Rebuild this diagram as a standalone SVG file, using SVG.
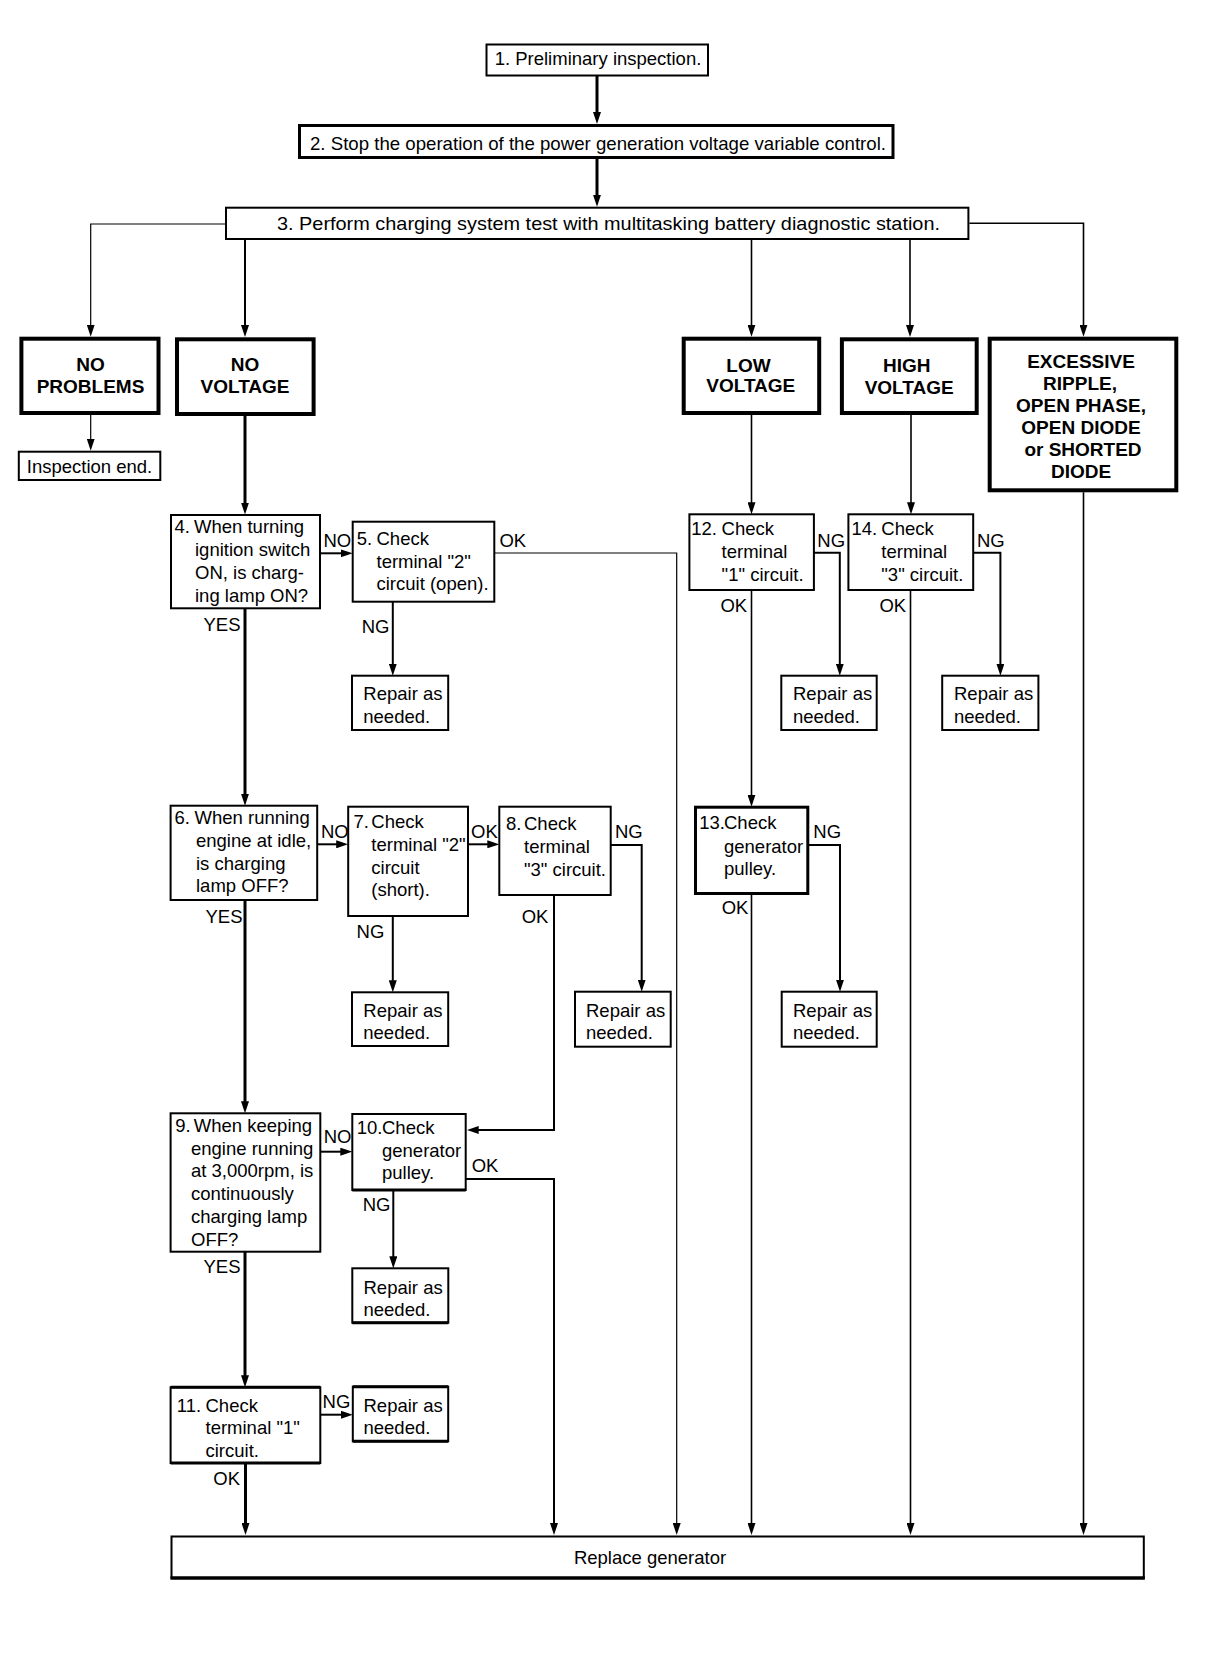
<svg xmlns="http://www.w3.org/2000/svg" width="1216" height="1660" viewBox="0 0 1216 1660">
<style>
text{font-family:"Liberation Sans",Arial,sans-serif;font-size:18.5px;fill:#000}
.b{font-weight:bold;font-size:19px}
.c{text-anchor:middle}
rect{fill:#fff;stroke:#000;stroke-width:2}
.k{stroke-width:4}
.m{stroke-width:3}
.cn path{fill:none;stroke:#000}
.t1{stroke-width:1.2}
.t15{stroke-width:1.6}
.t2{stroke-width:2}
.t3{stroke-width:3}
.a{marker-end:url(#ah)}
</style>
<defs>
<marker id="ah" viewBox="0 0 12 8" refX="6" refY="4" markerWidth="12" markerHeight="8" markerUnits="userSpaceOnUse" orient="auto">
<path d="M0,0 L12,4 L0,8 z" fill="#000"/>
</marker>
</defs>
<rect x="0" y="0" width="1216" height="1660" style="stroke:none;fill:#fff"/>

<g class="cn" id="connectors">
<path class="t3 a" d="M597,76 V118"/>
<path class="t3 a" d="M597,159 V200.7"/>
<path class="t1 a" d="M225,224 H90.7 V330.7"/>
<path class="t2 a" d="M245,240 V331"/>
<path class="t15 a" d="M751.5,240 V330.7"/>
<path class="t15 a" d="M910,240 V331"/>
<path class="t15 a" d="M969.4,223.3 H1083.5 V330.7"/>
<path class="t1 a" d="M90.7,415 V444.7"/>
<path class="t3 a" d="M245,416 V508.5"/>
<path class="t2 a" d="M320,553.3 H346.7"/>
<path class="t1 a" d="M494.3,553 H676.7 V1529"/>
<path class="t2 a" d="M392.8,601.7 V669.7"/>
<path class="t3 a" d="M245,608.3 V799.7"/>
<path class="t2 a" d="M317.2,844.3 H342.2"/>
<path class="t2 a" d="M468,844.3 H493.3"/>
<path class="t2 a" d="M610.7,845 H641.7 V985.7"/>
<path class="t2 a" d="M392.8,916 V986.3"/>
<path class="t2 a" d="M554,895 V1130 H472.7"/>
<path class="t3 a" d="M245,900 V1107.3"/>
<path class="t2 a" d="M320.3,1151.7 H346.3"/>
<path class="t2 a" d="M465.7,1179 H554 V1529"/>
<path class="t2 a" d="M393.3,1190 V1262.3"/>
<path class="t3 a" d="M245,1251.7 V1381.3"/>
<path class="t2 a" d="M320.3,1414.7 H346.8"/>
<path class="t3 a" d="M245.5,1463 V1529"/>
<path class="t15 a" d="M751.5,415 V508.3"/>
<path class="t2 a" d="M813.9,552.7 H839.8 V669.7"/>
<path class="t15 a" d="M751.5,590 V800.7"/>
<path class="t2 a" d="M808.3,845 H840 V985.7"/>
<path class="t15 a" d="M751.5,894 V1529"/>
<path class="t15 a" d="M911,415 V508.3"/>
<path class="t2 a" d="M973.2,552.7 H1000.4 V669.7"/>
<path class="t15 a" d="M910.5,590 V1529"/>
<path class="t15 a" d="M1083.5,492.3 V1529"/>
</g>

<g id="labels">
<text x="323.5" y="546.7">NO</text>
<text x="499.4" y="546.7">OK</text>
<text x="203.5" y="630.7">YES</text>
<text x="361.7" y="633.3">NG</text>
<text x="321" y="838.3">NO</text>
<text x="471" y="838.3">OK</text>
<text x="615" y="838.3">NG</text>
<text x="356.6" y="938.3">NG</text>
<text x="521.7" y="922.7">OK</text>
<text x="205.5" y="922.7">YES</text>
<text x="323.7" y="1143.3">NO</text>
<text x="471.7" y="1171.7">OK</text>
<text x="362.7" y="1211">NG</text>
<text x="203.5" y="1273.3">YES</text>
<text x="322.6" y="1408.3">NG</text>
<text x="213.3" y="1484.5">OK</text>
<text x="817.3" y="546.7">NG</text>
<text x="720.4" y="612.3">OK</text>
<text x="813.3" y="838.3">NG</text>
<text x="721.7" y="914">OK</text>
<text x="977" y="546.7">NG</text>
<text x="879.4" y="612.3">OK</text>
</g>

<g id="n1"><rect x="486.5" y="44.5" width="221.5" height="31"/><text class="c" x="598" y="65.2">1. Preliminary inspection.</text></g>
<g id="n2"><rect class="m" x="299.5" y="125.5" width="593.5" height="32"/><text x="310" y="149.5" textLength="576" lengthAdjust="spacingAndGlyphs">2. Stop the operation of the power generation voltage variable control.</text></g>
<g id="n3"><rect x="226" y="207.7" width="742.4" height="31.3"/><text x="277" y="229.8" textLength="663" lengthAdjust="spacingAndGlyphs">3. Perform charging system test with multitasking battery diagnostic station.</text></g>

<g id="no-problems"><rect class="k" x="21.4" y="338.7" width="137.1" height="74.3"/><text class="b c" x="90.5" y="370.5">NO</text><text class="b c" x="90.5" y="393">PROBLEMS</text></g>
<g id="no-voltage"><rect class="k" x="177" y="339.3" width="136.6" height="74.7"/><text class="b c" x="245" y="370.5">NO</text><text class="b c" x="245" y="393">VOLTAGE</text></g>
<g id="low-voltage"><rect class="k" x="683.7" y="338.7" width="135.5" height="74.3"/><text class="b c" x="748.5" y="371.5">LOW</text><text class="b c" x="750.8" y="392.2">VOLTAGE</text></g>
<g id="high-voltage"><rect class="k" x="841.9" y="339.3" width="134.8" height="73.7"/><text class="b c" x="906.8" y="372.2">HIGH</text><text class="b c" x="909.2" y="394.2">VOLTAGE</text></g>
<g id="excessive"><rect class="k" x="989.7" y="338.7" width="186.6" height="151.6"/>
<text class="b c" x="1081" y="368.2">EXCESSIVE</text>
<text class="b c" x="1080" y="390">RIPPLE,</text>
<text class="b c" x="1081" y="411.7">OPEN PHASE,</text>
<text class="b c" x="1081" y="433.9">OPEN DIODE</text>
<text class="b c" x="1083" y="455.9">or SHORTED</text>
<text class="b c" x="1081" y="478.2">DIODE</text></g>

<g id="inspection-end"><rect x="18.8" y="451.7" width="141.5" height="28.3"/><text class="c" x="89.5" y="472.8">Inspection end.</text></g>

<g id="n4"><rect x="171" y="515" width="149" height="93.3"/>
<text x="174.5" y="533.3">4.</text><text x="194" y="533.3">When turning</text>
<text x="195" y="556">ignition switch</text>
<text x="195" y="578.7">ON, is charg-</text>
<text x="195" y="601.5">ing lamp ON?</text></g>

<g id="n5"><rect x="352.7" y="521.7" width="141.6" height="80"/>
<text x="356.7" y="545">5.</text><text x="376.5" y="545">Check</text>
<text x="376.5" y="567.7">terminal "2"</text>
<text x="376.5" y="590.4">circuit (open).</text></g>

<g id="r5"><rect x="352" y="675.7" width="96.2" height="54.3"/><text x="363.3" y="700">Repair as</text><text x="363.3" y="722.7">needed.</text></g>

<g id="n6"><rect x="170.6" y="805.7" width="146.6" height="94.3"/>
<text x="174.5" y="824.3">6.</text><text x="194.5" y="824.3">When running</text>
<text x="196" y="847">engine at idle,</text>
<text x="196" y="869.7">is charging</text>
<text x="196" y="892.4">lamp OFF?</text></g>

<g id="n7"><rect x="348.2" y="806.7" width="119.8" height="109.3"/>
<text x="353.5" y="828.3">7.</text><text x="371.3" y="828.3">Check</text>
<text x="371.3" y="851">terminal "2"</text>
<text x="371.3" y="873.7">circuit</text>
<text x="371.3" y="896.4">(short).</text></g>

<g id="n8"><rect x="499.3" y="806.7" width="111.4" height="88.3"/>
<text x="506" y="830">8.</text><text x="524" y="830">Check</text>
<text x="524" y="853">terminal</text>
<text x="524" y="876">"3" circuit.</text></g>

<g id="r7"><rect x="352" y="992.3" width="96.2" height="53.7"/><text x="363.3" y="1016.7">Repair as</text><text x="363.3" y="1039.3">needed.</text></g>
<g id="r8"><rect x="575" y="991.7" width="95.7" height="55"/><text x="586" y="1016.7">Repair as</text><text x="586" y="1039.3">needed.</text></g>

<g id="n9"><rect x="170.6" y="1113.3" width="149.7" height="138.4"/>
<text x="175.3" y="1132">9.</text><text x="193.8" y="1132">When keeping</text>
<text x="191" y="1154.7">engine running</text>
<text x="191" y="1177.4">at 3,000rpm, is</text>
<text x="191" y="1200.1">continuously</text>
<text x="191" y="1222.8">charging lamp</text>
<text x="191" y="1245.5">OFF?</text></g>

<g id="n10"><rect x="352.3" y="1114" width="113.4" height="76"/><path d="M352.3,1190 H465.7" stroke="#000" stroke-width="3"/>
<text x="356.7" y="1134">10.</text><text x="382" y="1134">Check</text>
<text x="382" y="1156.7">generator</text>
<text x="382" y="1179.3">pulley.</text></g>

<g id="r10"><rect x="352.3" y="1268.3" width="96" height="54.4"/><path d="M352.3,1322.7 H448.3" stroke="#000" stroke-width="3"/><text x="363.5" y="1293.5">Repair as</text><text x="363.5" y="1316">needed.</text></g>

<g id="n11"><rect x="170.6" y="1387.3" width="149.7" height="75.7"/><path d="M170.6,1387.3 H320.3 M170.6,1463 H320.3" stroke="#000" stroke-width="3"/>
<text x="176.8" y="1411.7">11.</text><text x="205.5" y="1411.7">Check</text>
<text x="205.5" y="1434">terminal "1"</text>
<text x="205.5" y="1456.7">circuit.</text></g>

<g id="r11"><rect x="352.8" y="1386.7" width="95.4" height="54.6"/><path d="M352.8,1386.7 H448.2 M352.8,1441.3 H448.2" stroke="#000" stroke-width="3"/><text x="363.5" y="1411.7">Repair as</text><text x="363.5" y="1433.7">needed.</text></g>

<g id="n12"><rect x="689.4" y="514.3" width="124.5" height="75.7"/>
<text x="691.3" y="535">12.</text><text x="721.6" y="535">Check</text>
<text x="721.6" y="558.3">terminal</text>
<text x="721.6" y="581">"1" circuit.</text></g>

<g id="r12"><rect x="781.3" y="675.7" width="95.4" height="54.3"/><text x="793" y="700">Repair as</text><text x="793" y="722.7">needed.</text></g>

<g id="n13"><rect class="m" x="695.5" y="807.2" width="112.3" height="86.3"/>
<text x="699.3" y="829.3">13.</text><text x="724" y="829.3">Check</text>
<text x="724" y="852.7">generator</text>
<text x="724" y="875">pulley.</text></g>

<g id="r13"><rect x="781.7" y="991.7" width="95" height="55"/><text x="793" y="1016.7">Repair as</text><text x="793" y="1039.3">needed.</text></g>

<g id="n14"><rect x="848.4" y="514.3" width="124.8" height="75.7"/>
<text x="851.5" y="535">14.</text><text x="881.3" y="535">Check</text>
<text x="881.3" y="558.3">terminal</text>
<text x="881.3" y="581">"3" circuit.</text></g>

<g id="r14"><rect x="942.2" y="675.7" width="96.2" height="54.3"/><text x="954" y="700">Repair as</text><text x="954" y="722.7">needed.</text></g>

<g id="replace"><rect x="171.5" y="1536.5" width="972.3" height="41.5"/><path d="M170.5,1578 H1144.8" stroke="#000" stroke-width="3.5"/><text class="c" x="650" y="1563.5">Replace generator</text></g>
</svg>
